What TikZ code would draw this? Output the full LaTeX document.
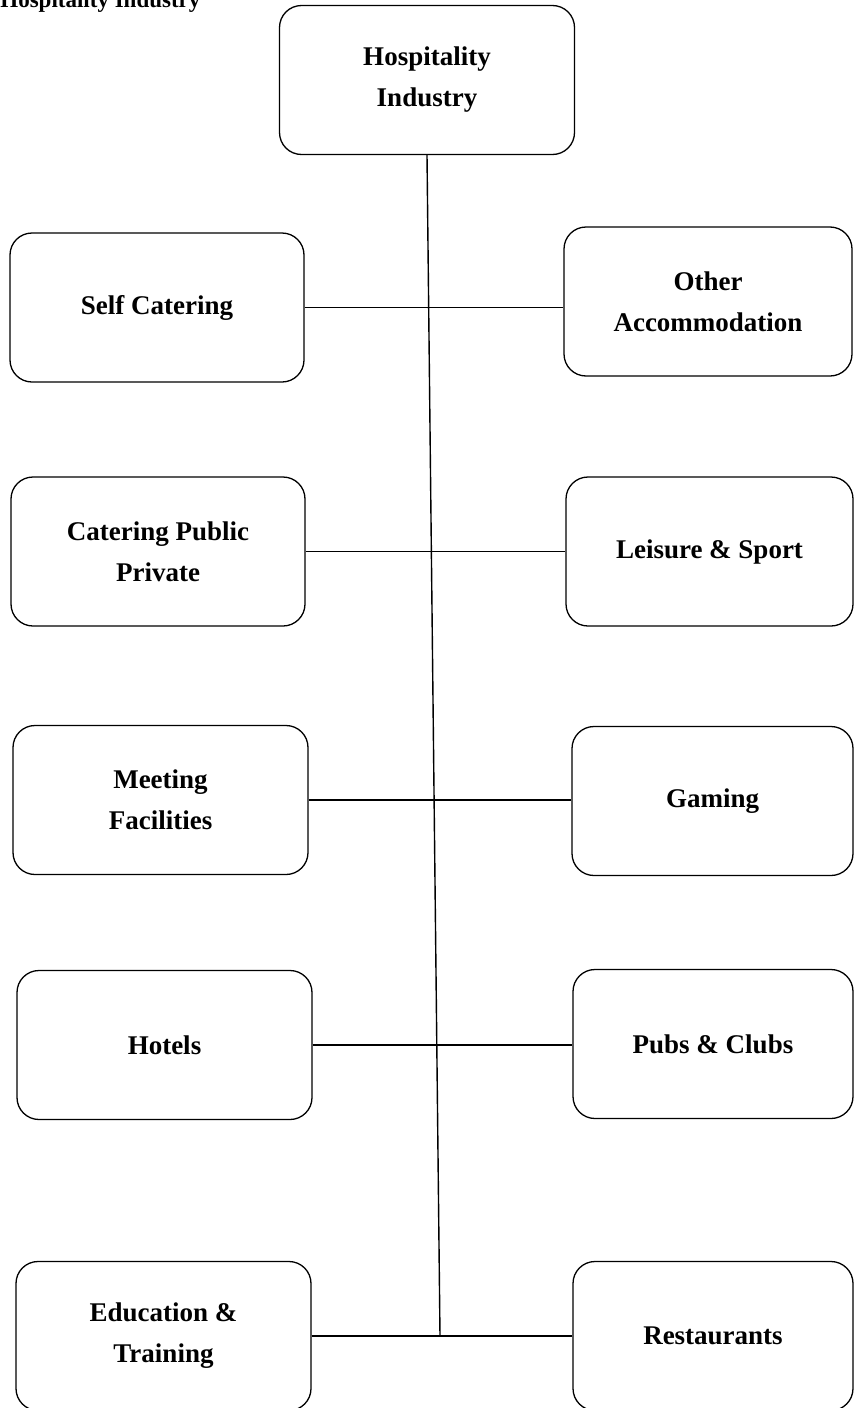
\documentclass[tikz,border=0pt]{standalone}
\usepackage{fontspec}
\setmainfont{Liberation Serif}

\tikzset{
  sector/.style={draw, line width=0.65pt, rounded corners=11pt, minimum height=74.5pt,
    align=center, inner sep=0pt, font=\bfseries\fontsize{13.5}{20.5}\selectfont},
  link/.style={line width=0.7pt}
}

\begin{document}
\begin{tikzpicture}[x=0.5pt, y=-0.5pt]
  \useasboundingbox (0,0) rectangle (854,1408);

  \node[anchor=base west, inner sep=0pt, font=\bfseries\fontsize{11.5}{14}\selectfont] (title) at (0,7) {Hospitality Industry};

  \node[sector, minimum width=147.5pt] (hi) at (427,80) {Hospitality\\Industry};

  % left column
  \node[sector, minimum width=147pt] (sc) at (157,307.5) {Self Catering};
  \node[sector, minimum width=147pt] (cp) at (158,551.5) {Catering Public\\Private};
  \node[sector, minimum width=147.5pt] (mf) at (160.5,800) {Meeting\\Facilities};
  \node[sector, minimum width=147.5pt] (ho) at (164.5,1045) {Hotels};
  \node[sector, minimum width=147.5pt] (et) at (163.5,1336) {Education \&\\Training};

  % right column
  \node[sector, minimum width=144pt] (oa) at (708,301.5) {Other\\Accommodation};
  \node[sector, minimum width=143.5pt] (ls) at (709.5,551.5) {Leisure \& Sport};
  \node[sector, minimum width=140.5pt] (ga) at (712.5,801) {Gaming};
  \node[sector, minimum width=140pt] (pc) at (713,1044) {Pubs \& Clubs};
  \node[sector, minimum width=140pt] (re) at (713,1336) {Restaurants};

  \coordinate (trunk) at (440,1336);
  \draw[link] (hi.south) -- (trunk);

  \draw[link] (sc.east) -- (sc.east -| oa.west);
  \draw[link] (cp.east) -- (cp.east -| ls.west);
  \draw[link] (mf.east) -- (mf.east -| ga.west);
  \draw[link] (ho.east) -- (ho.east -| pc.west);
  \draw[link] (et.east) -- (et.east -| re.west);
\end{tikzpicture}
\end{document}
